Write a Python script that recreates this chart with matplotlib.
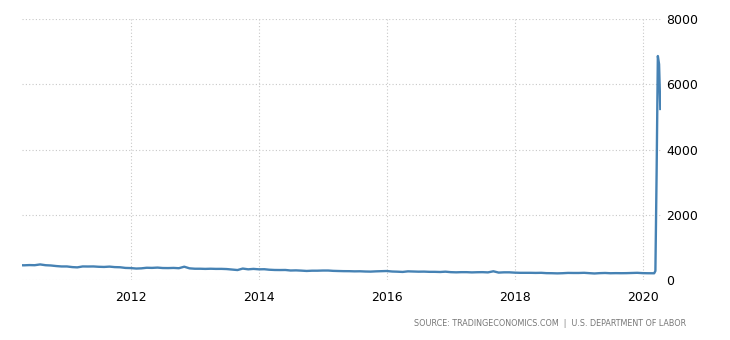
"""US initial jobless claims, weekly, in thousands (Trading Economics style)."""

import pandas as pd
import matplotlib
matplotlib.use('Agg')
import matplotlib.pyplot as plt
import matplotlib.dates as mdates

# monthly averages, Apr 2010 .. Feb 2020 (thousands)
monthly_claims = [
    460, 455, 462, 458, 482, 458, 450, 432, 420,            # 2010 Apr-Dec
    420, 400, 392, 420, 418, 420, 410, 405, 415, 400, 395, 375,   # 2011
    370, 356, 362, 380, 376, 385, 372, 370, 375, 366, 412, 362,   # 2012
    350, 350, 345, 350, 345, 346, 340, 325, 310, 355, 332, 345,   # 2013
    332, 335, 320, 312, 310, 312, 296, 300, 292, 282, 290, 290,   # 2014
    295, 295, 285, 280, 276, 275, 270, 272, 265, 262, 270, 275,   # 2015
    280, 265, 260, 252, 270, 265, 260, 262, 255, 255, 250, 260,   # 2016
    245, 240, 245, 245, 238, 243, 245, 238, 272, 232, 240, 240,   # 2017
    230, 225, 225, 225, 222, 225, 215, 213, 208, 213, 222, 220,   # 2018
    220, 225, 215, 205, 215, 220, 212, 215, 213, 215, 220, 225,   # 2019
    215, 212,                                                  # 2020 Jan-Feb
]
monthly_dates = pd.date_range('2010-04-01', periods=len(monthly_claims), freq='MS')

# weekly readings around the spike
weekly_dates = pd.to_datetime(['2020-03-07', '2020-03-14', '2020-03-21',
                               '2020-03-28', '2020-04-04', '2020-04-11'])
weekly_claims = [211, 282, 3307, 6867, 6615, 5245]

dates = list(monthly_dates) + list(weekly_dates)
claims = monthly_claims + weekly_claims

fig = plt.figure(figsize=(7.3, 3.4), dpi=100)
ax = fig.add_axes([0.030, 0.176, 0.875, 0.768])
ax.plot(dates, claims, color='#4682b4', linewidth=1.7, solid_joinstyle='round')

ax.set_xlim(pd.Timestamp('2010-04-19'), pd.Timestamp('2020-04-13'))
ax.set_ylim(0, 8000)
ax.set_yticks([0, 2000, 4000, 6000, 8000])
ax.xaxis.set_major_locator(mdates.YearLocator(2))
ax.xaxis.set_major_formatter(mdates.DateFormatter('%Y'))

ax.yaxis.tick_right()
ax.tick_params(axis='both', length=0, labelsize=9, colors='black')
ax.tick_params(axis='x', pad=8)
ax.tick_params(axis='y', pad=4)
for s in ax.spines.values():
  s.set_visible(False)
ax.grid(True, linestyle=(0, (1, 2)), color='#c8c8c8', linewidth=0.8)
ax.set_axisbelow(True)

fig.text(0.940, 0.05, 'SOURCE: TRADINGECONOMICS.COM  |  U.S. DEPARTMENT OF LABOR',
         ha='right', va='center', fontsize=5.8, color='#777777')

fig.savefig('out.png', dpi=100)
